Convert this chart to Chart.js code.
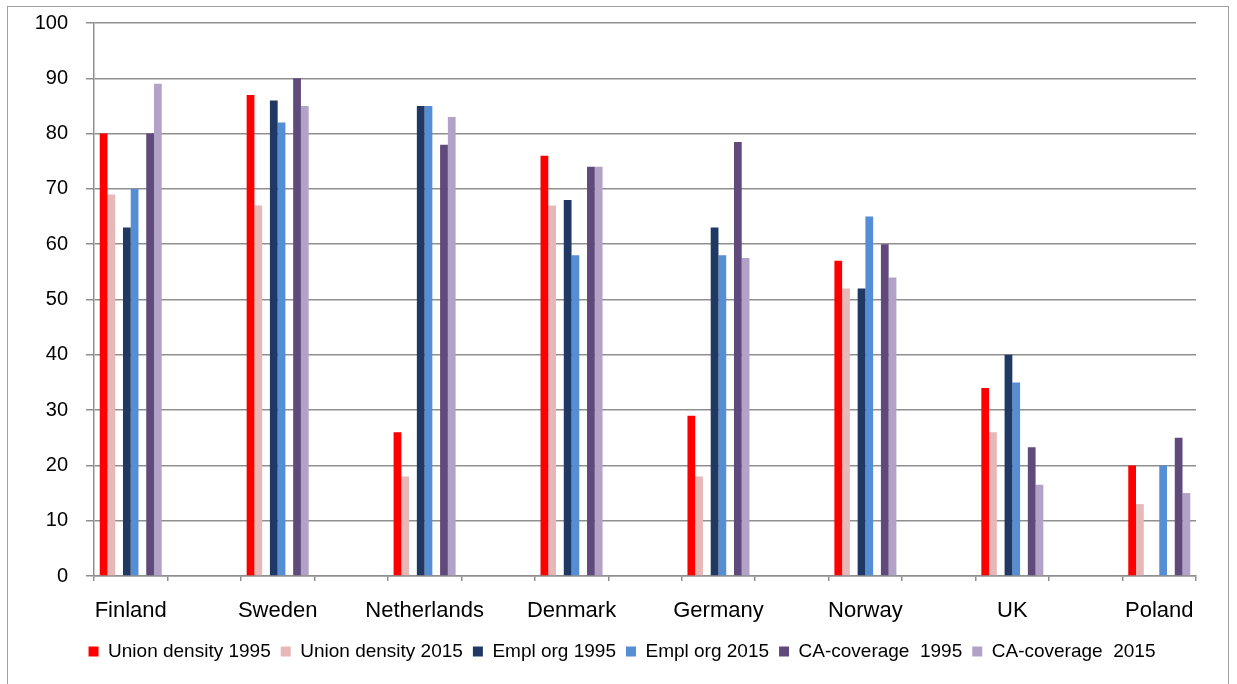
<!DOCTYPE html>
<html>
<head>
<meta charset="utf-8">
<script src="https://cdn.jsdelivr.net/npm/chart.js@4"></script>
<style>
  html, body { margin: 0; padding: 0; background: #fff; }
  #wrap { position: relative; width: 1237px; height: 684px; overflow: hidden; }
  #frame { position: absolute; left: 7px; top: 6px; width: 1220px; height: 700px; border: 1.5px solid #a0a0a0; }
  canvas { position: absolute; left: 0; top: 0; }
</style>
</head>
<body>
<div id="wrap">
  <div id="frame"></div>
  <canvas id="chart" width="1237" height="684"></canvas>
</div>
<script>
/* Union density, employer organisation and collective agreement coverage, 1995 vs 2015 */

const COUNTRIES = ['Finland', 'Sweden', 'Netherlands', 'Denmark', 'Germany', 'Norway', 'UK', 'Poland'];

const UNION_1995 = [80, 87, 26, 76, 29, 57, 34, 20];
const UNION_2015 = [69, 67, 18, 67, 18, 52, 26, 13];
const EMPL_1995  = [63, 86, 85, 68, 63, 52, 40, null];
const EMPL_2015  = [70, 82, 85, 58, 58, 65, 35, 20];
const CA_1995    = [80, 90, 78, 74, 78.5, 60, 23.3, 25];
const CA_2015    = [89, 85, 83, 74, 57.5, 54, 16.5, 15];

const Y_TICKS = [0, 10, 20, 30, 40, 50, 60, 70, 80, 90, 100];

// each country sits in its own slot with an empty slot in between
const labels = [];
COUNTRIES.forEach((c, i) => {
  labels.push(c);
  if (i < COUNTRIES.length - 1) labels.push('');
});
const spread = arr => labels.map((l, i) => (i % 2 === 0 ? arr[i / 2] : null));

const series = (label, data, color) => ({
  label, data: spread(data), backgroundColor: color, borderWidth: 0
});
const spacer = () => ({ label: '', data: labels.map(() => null), backgroundColor: 'rgba(0,0,0,0)' });

const FONT = "'Liberation Sans', Arial, sans-serif";
const GRID = '#8f8f8f';

// nudge the legend a bit to the right, like the original sheet
const legendShift = {
  id: 'legendShift',
  afterLayout(chart) {
    chart.legend.left += 24;
    chart.legend.right += 24;
  }
};

new Chart(document.getElementById('chart'), {
  type: 'bar',
  data: {
    labels,
    datasets: [
      series('Union density 1995', UNION_1995, '#ff0000'),
      series('Union density 2015', UNION_2015, '#e6b9b8'),
      spacer(),
      series('Empl org 1995', EMPL_1995, '#1f3864'),
      series('Empl org 2015', EMPL_2015, '#558ed5'),
      spacer(),
      series('CA-coverage  1995', CA_1995, '#604a7b'),
      series('CA-coverage  2015', CA_2015, '#b3a2c7'),
    ]
  },
  plugins: [legendShift],
  options: {
    responsive: false,
    animation: false,
    devicePixelRatio: 1,
    layout: { padding: { left: 0, right: 41, top: 23, bottom: 13 } },
    datasets: { bar: { barPercentage: 1, categoryPercentage: 0.844 } },
    plugins: {
      tooltip: { enabled: false },
      legend: {
        position: 'bottom',
        labels: {
          color: '#000',
          font: { family: FONT, size: 19 },
          boxWidth: 10,
          boxHeight: 10,
          padding: 10,
          filter: item => item.text !== ''
        }
      }
    },
    scales: {
      x: {
        grid: { display: true, drawOnChartArea: false, color: GRID, lineWidth: 1.5, tickLength: 5 },
        border: { display: true, color: GRID, width: 1.5 },
        ticks: { color: '#000', font: { family: FONT, size: 22 }, autoSkip: false, maxRotation: 0, padding: 17 },
        afterFit: s => { s.height = 56; }
      },
      y: {
        min: 0, max: 100,
        afterBuildTicks: s => { s.ticks = Y_TICKS.map(v => ({ value: v })); },
        grid: { color: GRID, lineWidth: 1.5, tickLength: 8 },
        border: { display: true, color: GRID, width: 1.5 },
        ticks: { color: '#000', font: { family: FONT, size: 20 }, padding: 18 },
        afterFit: s => { s.width = 94; s.paddingTop = 0; s.paddingBottom = 0; }
      }
    }
  }
});
</script>
</body>
</html>
